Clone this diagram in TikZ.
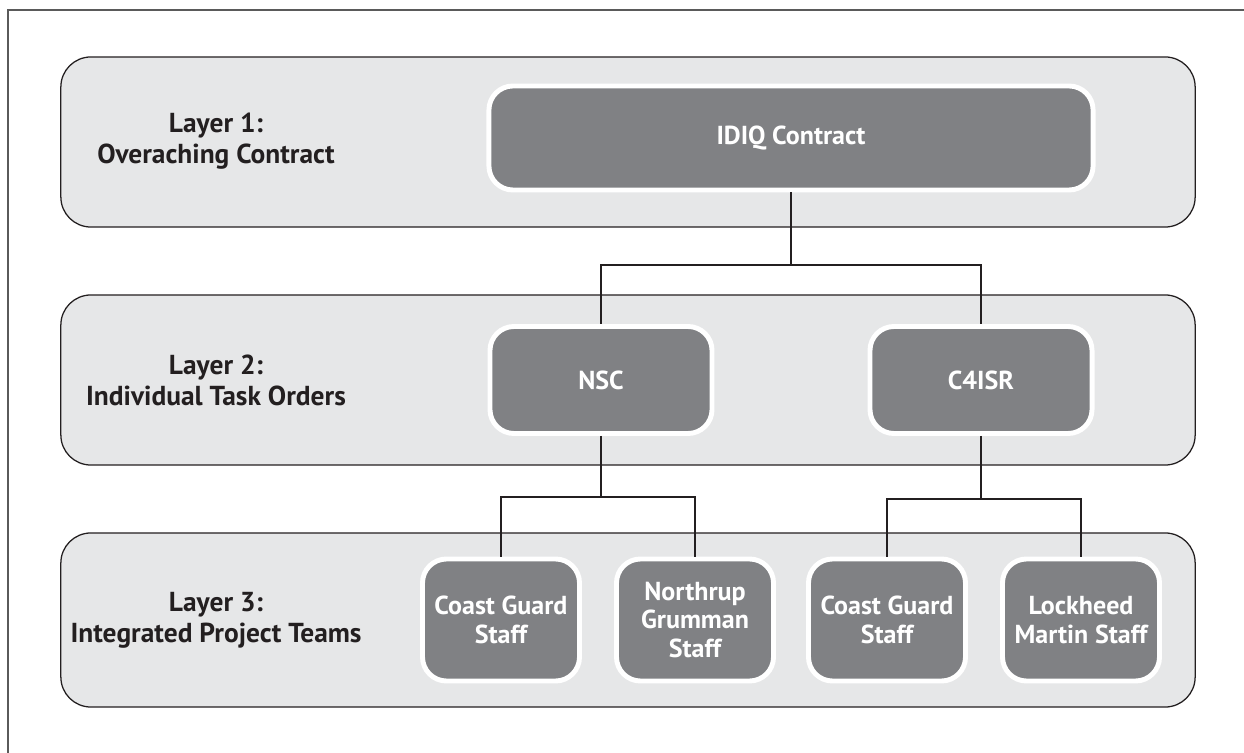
\documentclass[tikz,border=0pt]{standalone}
\usepackage{fontspec}
\setmainfont{PT Sans}
\usepackage{tikz}
\usepackage{xcolor}
\definecolor{bandfill}{HTML}{E6E7E8}
\definecolor{boxfill}{HTML}{808184}
\definecolor{darktext}{HTML}{231F20}
\definecolor{framegray}{HTML}{5A5A5A}

\begin{document}
\begin{tikzpicture}[x=0.025cm, y=-0.025cm,
    band/.style={shape=rectangle, rounded corners=0.75cm, draw=darktext, fill=bandfill, line width=0.9pt, minimum width=28.35cm},
    box/.style={shape=rectangle, rounded corners=0.6cm, draw=white, fill=boxfill, line width=3.5pt, text=white, inner sep=0pt, align=center, font=\bfseries\fontsize{18.5}{20.5}\selectfont},
    layer/.style={text=darktext, align=center, font=\bfseries\fontsize{19.5}{22}\selectfont},
    link/.style={draw=darktext, line width=1.1pt}]
        \useasboundingbox (0,0) rectangle (1244,753);
        % Page frame
        \draw[framegray, line width=1.4pt] (8,753) -- (8,10) -- (1244,10);
        % Layer bands
        \node[band, minimum height=4.25cm] (B1) at (628,142) {};
        \node[band, minimum height=4.25cm] (B2) at (628,380) {};
        \node[band, minimum height=4.35cm] (B3) at (628,620) {};
        % Layer labels
        \node[layer] (T1) at (216,141) {Layer 1:\\Overaching Contract};
        \node[layer] (T2) at (216,380) {Layer 2:\\Individual Task Orders};
        \node[layer] (T3) at (216,620) {Layer 3:\\Integrated Project Teams};
        % Contract
        \node[box, minimum width=15.1cm, minimum height=2.6cm] (IDIQ) at (791,138) {IDIQ Contract};
        % Task orders
        \node[box, minimum width=5.55cm, minimum height=2.675cm] (NSC) at (601,380) {NSC};
        \node[box, minimum width=5.55cm, minimum height=2.675cm] (C4ISR) at (981,380) {C4ISR};
        % Project teams
        \node[box, minimum width=3.925cm, minimum height=3.05cm] (CG1) at (501,620) {Coast Guard\\Staff};
        \node[box, minimum width=3.925cm, minimum height=3.05cm] (NG) at (695,620) {Northrup\\Grumman\\Staff};
        \node[box, minimum width=3.925cm, minimum height=3.05cm] (CG2) at (887,620) {Coast Guard\\Staff};
        \node[box, minimum width=3.925cm, minimum height=3.05cm] (LM) at (1081,620) {Lockheed\\Martin Staff};
        % Junctions
        \coordinate (J1) at (791,265);
        \coordinate (J2) at (601,497);
        \coordinate (J3) at (981,499);
        % Connectors
        \draw[link] (IDIQ.south) -- (J1) -| (NSC.north);
        \draw[link] (J1) -| (C4ISR.north);
        \draw[link] (NSC.south) -- (J2) -| (CG1.north);
        \draw[link] (J2) -| (NG.north);
        \draw[link] (C4ISR.south) -- (J3) -| (CG2.north);
        \draw[link] (J3) -| (LM.north);
\end{tikzpicture}
\end{document}
